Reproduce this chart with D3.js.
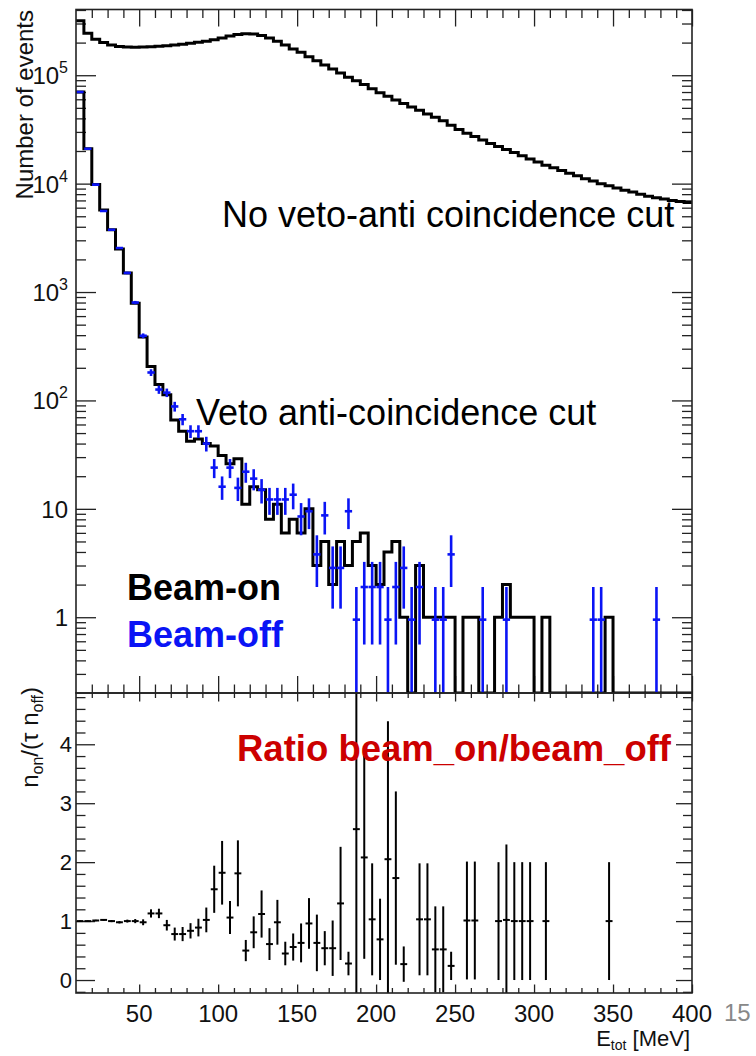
<!DOCTYPE html>
<html>
<head>
<meta charset="utf-8">
<script src="https://cdn.jsdelivr.net/npm/d3@7"></script>
<style>
  body { margin: 0; background: #fff; }
  text { font-family: "Liberation Sans", Arial, Helvetica, sans-serif; }
</style>
</head>
<body>
<div id="chart"></div>
<script>
// bin lower edges [MeV], 5 MeV bins
const binLow = [10, 15, 20, 25, 30, 35, 40, 45, 50, 55, 60, 65, 70, 75, 80, 85, 90, 95, 100, 105,
  110, 115, 120, 125, 130, 135, 140, 145, 150, 155, 160, 165, 170, 175, 180, 185, 190, 195, 200, 205,
  210, 215, 220, 225, 230, 235, 240, 245, 250, 255, 260, 265, 270, 275, 280, 285, 290, 295, 300, 305,
  310, 315, 320, 325, 330, 335, 340, 345, 350, 355, 360, 365, 370, 375, 380, 385, 390, 395];
const binWidth = 5;

// No veto-anti coincidence cut
const noVeto = [318000, 244000, 215000, 200000, 190000, 184000, 182000, 181000, 182000, 183000,
  185000, 187000, 190000, 193000, 197000, 201000, 206000, 212000, 220000, 230000,
  238000, 242000, 240000, 233000, 220000, 206000, 190000, 175000, 163000, 148000,
  136000, 124000, 114000, 105000, 96000, 89000, 82000, 75000, 69000, 64000,
  59000, 55000, 51000, 47500, 44000, 41000, 38000, 34500, 31500, 29200,
  27200, 25300, 23500, 22000, 20700, 19400, 18100, 16900, 15800, 14800,
  14000, 13200, 12500, 11800, 11100, 10600, 10000, 9550, 9100, 8700,
  8350, 8000, 7650, 7400, 7200, 7000, 6850, 6700];

// Beam-on (veto anti-coincidence cut)
const beamOn = [70000, 21000, 9800, 5700, 3750, 2500, 1500, 790, 385, 206,
  140, 113, 66, 52, 42, 44, 40, 38, 31, 26,
  29, 11, 16, 15, 8, 11, 6, 8, 6, 10,
  3, 5, 2, 5, 3, 5, 6, 3, 2, 4,
  5, 1, 0, 3, 1, 1, 1, 1, 0, 1,
  1, 0, 0, 1, 2, 1, 1, 1, 0, 1,
  0, 0, 0, 0, 0, 0, 0, 1, 0, 0,
  0, 0, 0, 0, 0, 0, 0, 0];

// Beam-off points and errors
const beamOff = [70000, 21000, 9800, 5600, 3750, 2550, 1500, 800, 395, 181,
  126, 118, 88, 67, 52, 52, 40, 24, 16, 24,
  15.6, 22, 19, 15, 12.2, 12.2, 12.2, 13.5, 8.5, 9.5,
  3.8, 8.7, 2.85, 2.85, 9.5, 0.95, 1.9, 1.9, 1.9, 0.95,
  1.9, 2.85, 0.95, 1.9, null, 0.95, 0.95, 3.8, null, null,
  null, 0.95, null, null, 0.95, null, null, null, null, null,
  null, null, null, null, null, 0.95, 0.95, null, null, null,
  null, null, null, 0.95, null, null, null, null];
const beamOffErr = [270, 145, 100, 75, 60, 50, 38, 28, 20, 13,
  11, 10.6, 9.1, 8, 7, 7, 6.2, 4.8, 3.9, 4.8,
  3.8, 4.6, 4.2, 3.8, 3.4, 3.4, 3.4, 3.6, 2.8, 3.0,
  1.9, 2.9, 1.65, 1.65, 3.0, 0.95, 1.34, 1.34, 1.34, 0.95,
  1.34, 1.65, 0.95, 1.34, null, 0.95, 0.95, 1.9, null, null,
  null, 0.95, null, null, 0.95, null, null, null, null, null,
  null, null, null, null, null, 0.95, 0.95, null, null, null,
  null, null, null, 0.95, null, null, null, null];

// ratio n_on/(tau n_off)
const ratio = [1.00, 1.00, 1.01, 1.02, 1.00, 0.98, 1.00, 1.00, 0.98, 1.13,
  1.13, 0.93, 0.78, 0.78, 0.835, 0.89, 1.02, 1.54, 1.82, 1.06,
  1.81, 0.50, 0.81, 1.12, 0.61, 0.98, 0.45, 0.56, 0.63, 0.96,
  0.63, 0.54, 0.54, 1.30, 0.28, 2.56, 2.08, 1.03, 0.69, 2.05,
  1.73, 0.27, null, 1.03, 1.03, 0.52, 0.52, 0.24, null, 1.01,
  1.01, null, null, 1.0, 1.02, 1.0, 1.0, 1.0, null, 1.0,
  null, null, null, null, null, null, null, 1.0, null, null,
  null, null, null, null, null, null, null, null];
const ratioErr = [0.01, 0.01, 0.012, 0.015, 0.018, 0.02, 0.025, 0.035, 0.05, 0.07,
  0.08, 0.09, 0.11, 0.12, 0.13, 0.15, 0.21, 0.40, 0.54, 0.28,
  0.56, 0.18, 0.27, 0.40, 0.27, 0.38, 0.20, 0.23, 0.33, 0.43,
  0.48, 0.29, 0.47, 0.96, 0.20, 3.0, 1.72, 0.95, 0.69, 2.34,
  1.47, 0.30, null, 0.95, 0.95, 0.73, 0.73, 0.24, null, 1.0,
  1.0, null, null, 1.0, 1.28, 1.0, 1.0, 1.0, null, 1.0,
  null, null, null, null, null, null, null, 1.0, null, null,
  null, null, null, null, null, null, null, null];

// tick labels
const xTickLabels = [50, 100, 150, 200, 250, 300, 350, 400];
const yTopTicks = [1, 10, 100, 1000, 10000, 100000];
const yTopLabels = [["1", ""], ["10", ""], ["10", "2"], ["10", "3"], ["10", "4"], ["10", "5"]];
const yBotTicks = [0, 1, 2, 3, 4];

const blue = "#0a14f5";
const red = "#cc0000";

const svg = d3.select("#chart")
  .append("svg")
  .attr("width", 756)
  .attr("height", 1056);

// scales
const x = d3.scaleLinear().domain([10, 400]).range([76, 692]);
const yTop = d3.scaleLog().domain([0.2, 4.04e5]).range([693, 9.5]);
const yBot = d3.scaleLinear().domain([-0.22, 4.87]).range([993, 693]);

// clip paths
const defs = svg.append("defs");
defs.append("clipPath").attr("id", "clipTop")
  .append("rect").attr("x", 76).attr("y", 9.5).attr("width", 616).attr("height", 683.5);
defs.append("clipPath").attr("id", "clipBot")
  .append("rect").attr("x", 76).attr("y", 693).attr("width", 616).attr("height", 300);

// minor ticks
const xMinor = [];
for (let v = 20; v < 400; v += 10) if (v % 50 !== 0) xMinor.push(v);
const yTopMinor = [];
for (let d = -1; d <= 5; d++) for (let m = 2; m <= 9; m++) {
  const v = m * Math.pow(10, d);
  if (v > 0.2 && v < 4.04e5) yTopMinor.push(v);
}
const yBotMinor = [];
for (let v = -0.2; v < 4.85; v += 0.2) {
  const r = Math.round(v * 10) / 10;
  if (Math.abs(r - Math.round(r)) > 0.05) yBotMinor.push(r);
}

function ticks(axis, tx, ty, size, values) {
  svg.append("g")
    .attr("transform", `translate(${tx},${ty})`)
    .call(axis.tickValues(values).tickSize(size).tickFormat(""))
    .call(g => g.select(".domain").remove())
    .selectAll("line").attr("stroke", "#222").attr("stroke-width", 1.3);
}

// top panel ticks
ticks(d3.axisTop(x), 0, 9.5, -17, xTickLabels);
ticks(d3.axisTop(x), 0, 9.5, -8.5, xMinor);
ticks(d3.axisBottom(x), 0, 693, -17, xTickLabels);
ticks(d3.axisBottom(x), 0, 693, -8.5, xMinor);
ticks(d3.axisLeft(yTop), 76, 0, -20, yTopTicks);
ticks(d3.axisLeft(yTop), 76, 0, -10, yTopMinor);
ticks(d3.axisRight(yTop), 692, 0, -20, yTopTicks);
ticks(d3.axisRight(yTop), 692, 0, -10, yTopMinor);

// bottom panel ticks
ticks(d3.axisTop(x), 0, 693, -8.5, xTickLabels);
ticks(d3.axisTop(x), 0, 693, -5, xMinor);
ticks(d3.axisBottom(x), 0, 993, -8.5, xTickLabels);
ticks(d3.axisBottom(x), 0, 993, -5, xMinor);
ticks(d3.axisLeft(yBot), 76, 0, -19, yBotTicks);
ticks(d3.axisLeft(yBot), 76, 0, -9.5, yBotMinor);
ticks(d3.axisRight(yBot), 692, 0, -16, yBotTicks);
ticks(d3.axisRight(yBot), 692, 0, -9, yBotMinor);

// step histogram path
function stepPath(values) {
  const pts = values.map((v, i) => [x(binLow[i]), yTop(Math.max(v, 0.2))]);
  pts.push([x(binLow[binLow.length - 1] + binWidth), pts[pts.length - 1][1]]);
  return d3.line().curve(d3.curveStepAfter)(pts);
}

const gTop = svg.append("g").attr("clip-path", "url(#clipTop)");

gTop.append("path")
  .attr("d", stepPath(noVeto))
  .attr("fill", "none")
  .attr("stroke", "#000")
  .attr("stroke-width", 3);

gTop.append("path")
  .attr("d", stepPath(beamOn))
  .attr("fill", "none")
  .attr("stroke", "#000")
  .attr("stroke-width", 3);

// beam-off points
const offData = beamOff.map((v, i) => ({ i, v, e: beamOffErr[i] })).filter(d => d.v !== null);
const gOff = gTop.append("g").attr("stroke", blue).attr("stroke-width", 2.6);
gOff.selectAll("line.h")
  .data(offData)
  .join("line")
  .attr("class", "h")
  .attr("x1", d => x(binLow[d.i]) + 0.3)
  .attr("x2", d => x(binLow[d.i] + binWidth) - 0.3)
  .attr("y1", d => yTop(d.v))
  .attr("y2", d => yTop(d.v));
gOff.selectAll("line.v")
  .data(offData)
  .join("line")
  .attr("class", "v")
  .attr("x1", d => x(binLow[d.i] + binWidth / 2))
  .attr("x2", d => x(binLow[d.i] + binWidth / 2))
  .attr("y1", d => yTop(d.v + d.e))
  .attr("y2", d => yTop(Math.max(d.v - d.e, 0.1)));

// ratio points
const rData = ratio.map((v, i) => ({ i, v, e: ratioErr[i] })).filter(d => d.v !== null);
const gRat = svg.append("g").attr("clip-path", "url(#clipBot)")
  .attr("stroke", "#000").attr("stroke-width", 2);
gRat.selectAll("line.h")
  .data(rData)
  .join("line")
  .attr("class", "h")
  .attr("x1", d => x(binLow[d.i]) + 0.5)
  .attr("x2", d => x(binLow[d.i] + binWidth) - 0.5)
  .attr("y1", d => yBot(d.v))
  .attr("y2", d => yBot(d.v));
gRat.selectAll("line.v")
  .data(rData)
  .join("line")
  .attr("class", "v")
  .attr("x1", d => x(binLow[d.i] + binWidth / 2))
  .attr("x2", d => x(binLow[d.i] + binWidth / 2))
  .attr("y1", d => yBot(d.v + d.e))
  .attr("y2", d => yBot(d.v - d.e));

// frames
svg.append("rect").attr("x", 76).attr("y", 9.5).attr("width", 616).attr("height", 683.5)
  .attr("fill", "none").attr("stroke", "#222").attr("stroke-width", 1.6);
svg.append("rect").attr("x", 76).attr("y", 693).attr("width", 616).attr("height", 300)
  .attr("fill", "none").attr("stroke", "#222").attr("stroke-width", 1.6);

// top y labels
yTopTicks.forEach((v, k) => {
  const t = svg.append("text")
    .attr("x", 68)
    .attr("y", yTop(v) + 9)
    .attr("text-anchor", "end")
    .attr("font-size", 24)
    .attr("fill", "#111")
    .text(yTopLabels[k][0]);
  if (yTopLabels[k][1]) {
    t.append("tspan").attr("dy", -11).attr("font-size", 16).text(yTopLabels[k][1]);
  }
});

// bottom y labels
svg.append("g")
  .selectAll("text")
  .data(yBotTicks)
  .join("text")
  .attr("x", 72)
  .attr("y", d => yBot(d) + 8)
  .attr("text-anchor", "end")
  .attr("font-size", 22)
  .attr("fill", "#111")
  .text(d => d);

// x labels
svg.append("g")
  .selectAll("text")
  .data(xTickLabels)
  .join("text")
  .attr("x", d => x(d))
  .attr("y", 1022)
  .attr("text-anchor", "middle")
  .attr("font-size", 24)
  .attr("fill", "#111")
  .text(d => d);

// axis titles
svg.append("text")
  .attr("transform", "translate(33,10) rotate(-90)")
  .attr("text-anchor", "end")
  .attr("font-size", 24)
  .attr("fill", "#111")
  .text("Number of events");

const yl = svg.append("text")
  .attr("transform", "translate(38,687) rotate(-90)")
  .attr("text-anchor", "end")
  .attr("font-size", 24)
  .attr("fill", "#111");
yl.append("tspan").text("n");
yl.append("tspan").attr("font-size", 16).attr("dy", 5).text("on");
yl.append("tspan").attr("dy", -5).text("/(\u03c4 n");
yl.append("tspan").attr("font-size", 16).attr("dy", 5).text("off");
yl.append("tspan").attr("dy", -5).text(")");

const xl = svg.append("text")
  .attr("x", 690)
  .attr("y", 1046)
  .attr("text-anchor", "end")
  .attr("font-size", 22)
  .attr("fill", "#111");
xl.append("tspan").text("E");
xl.append("tspan").attr("font-size", 14).attr("dy", 4).text("tot");
xl.append("tspan").attr("dy", -4).text(" [MeV]");

// annotations
svg.append("text").attr("x", 222).attr("y", 227)
  .attr("font-size", 36).attr("fill", "#000")
  .text("No veto-anti coincidence cut");
svg.append("text").attr("x", 196).attr("y", 425)
  .attr("font-size", 36).attr("fill", "#000")
  .text("Veto anti-coincidence cut");
svg.append("text").attr("x", 127).attr("y", 600)
  .attr("font-size", 36).attr("font-weight", "bold").attr("fill", "#000")
  .text("Beam-on");
svg.append("text").attr("x", 127).attr("y", 647)
  .attr("font-size", 36).attr("font-weight", "bold").attr("fill", blue)
  .text("Beam-off");
svg.append("text").attr("x", 237).attr("y", 761)
  .attr("font-size", 36.5).attr("font-weight", "bold").attr("fill", red)
  .text("Ratio beam_on/beam_off");

// slide number
svg.append("text").attr("x", 724).attr("y", 1021)
  .attr("font-size", 24).attr("fill", "#888")
  .text("15");
</script>
</body>
</html>
